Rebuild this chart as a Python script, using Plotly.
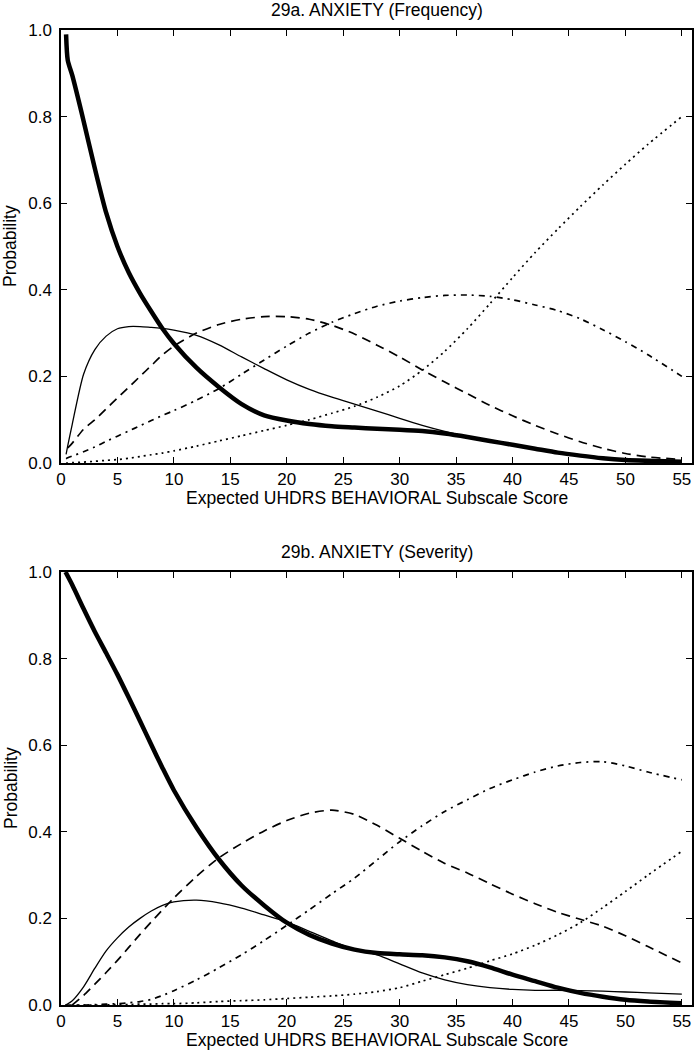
import plotly.graph_objects as go

# ---------------- data ----------------
x_freq = [0.45, 0.6, 1, 2, 3, 4, 5, 6, 7, 8, 9, 10, 12, 14, 16, 18, 20, 22, 24, 26,
          28, 30, 32, 34, 36, 38, 40, 42, 44, 46, 48, 50, 52, 55]
freq_p0 = [0.99, 0.93, 0.895, 0.79, 0.68, 0.578, 0.5, 0.44, 0.392, 0.35, 0.31, 0.276,
           0.22, 0.175, 0.136, 0.11, 0.098, 0.09, 0.085, 0.082, 0.079, 0.077, 0.074,
           0.068, 0.06, 0.051, 0.042, 0.033, 0.024, 0.017, 0.011, 0.007, 0.005, 0.003]
freq_p1 = [0.02, 0.04, 0.09, 0.205, 0.262, 0.293, 0.31, 0.315, 0.315, 0.313, 0.311,
           0.307, 0.295, 0.273, 0.245, 0.218, 0.192, 0.17, 0.152, 0.136, 0.12, 0.103,
           0.087, 0.073, 0.061, 0.052, 0.043, 0.034, 0.026, 0.019, 0.013, 0.008,
           0.005, 0.003]
freq_p2 = [None, 0.035, 0.046, 0.078, 0.10, 0.125, 0.15, 0.175, 0.20, 0.225, 0.25,
           0.27, 0.30, 0.32, 0.332, 0.338, 0.338, 0.332, 0.318, 0.298, 0.272, 0.245,
           0.215, 0.187, 0.16, 0.133, 0.109, 0.087, 0.067, 0.049, 0.034, 0.022,
           0.014, 0.008]
freq_p3 = [0.01, 0.012, 0.016, 0.026, 0.037, 0.05, 0.062, 0.074, 0.086, 0.098, 0.11,
           0.121, 0.145, 0.172, 0.205, 0.238, 0.27, 0.30, 0.325, 0.345, 0.362, 0.374,
           0.382, 0.387, 0.388, 0.385, 0.377, 0.365, 0.352, 0.333, 0.308, 0.28,
           0.25, 0.20]
freq_p4 = [0.0, 0.0, 0.001, 0.002, 0.004, 0.006, 0.008, 0.011, 0.015, 0.019, 0.023,
           0.028, 0.039, 0.051, 0.063, 0.075, 0.087, 0.10, 0.115, 0.131, 0.152, 0.178,
           0.214, 0.258, 0.31, 0.368, 0.428, 0.486, 0.54, 0.592, 0.642, 0.69, 0.736,
           0.80]

x_sev = [0.4, 1, 2, 3, 4, 5, 6, 7, 8, 9, 10, 12, 14, 16, 18, 20, 22, 24, 26, 28, 30,
         32, 34, 36, 38, 40, 42, 44, 46, 48, 50, 52, 55]
sev_p0 = [1.0, 0.97, 0.915, 0.862, 0.813, 0.763, 0.71, 0.656, 0.601, 0.547, 0.496,
          0.41, 0.336, 0.276, 0.23, 0.19, 0.162, 0.142, 0.128, 0.12, 0.117, 0.115,
          0.11, 0.101, 0.087, 0.07, 0.055, 0.04, 0.028, 0.019, 0.012, 0.008, 0.004]
sev_p1 = [0.0, 0.01, 0.042, 0.085, 0.125, 0.155, 0.18, 0.20, 0.217, 0.23, 0.238,
          0.242, 0.236, 0.224, 0.208, 0.192, 0.17, 0.148, 0.128, 0.116, 0.095, 0.074,
          0.058, 0.047, 0.04, 0.036, 0.034, 0.034, 0.033, 0.032, 0.03, 0.028, 0.025]
sev_p2 = [None, 0.0, 0.022, 0.048, 0.075, 0.103, 0.133, 0.163, 0.192, 0.22, 0.247,
          0.297, 0.34, 0.373, 0.402, 0.426, 0.443, 0.45, 0.44, 0.415, 0.385, 0.355,
          0.327, 0.305, 0.28, 0.256, 0.234, 0.214, 0.198, 0.182, 0.16, 0.135, 0.097]
sev_p3 = [0.0, 0.0, 0.0, 0.001, 0.002, 0.003, 0.005, 0.008, 0.013, 0.022, 0.033,
          0.058, 0.086, 0.116, 0.149, 0.184, 0.22, 0.257, 0.293, 0.335, 0.377, 0.414,
          0.447, 0.474, 0.50, 0.52, 0.538, 0.552, 0.56, 0.562, 0.552, 0.538, 0.52]
sev_p4 = [0.0, 0.0, 0.0, 0.0, 0.0, 0.001, 0.001, 0.002, 0.002, 0.003, 0.003, 0.005,
          0.008, 0.01, 0.012, 0.015, 0.018, 0.021, 0.025, 0.031, 0.04, 0.055, 0.07,
          0.085, 0.102, 0.118, 0.138, 0.162, 0.19, 0.225, 0.262, 0.30, 0.355]

x_ticks = [0, 5, 10, 15, 20, 25, 30, 35, 40, 45, 50, 55]
y_ticks = [0.0, 0.2, 0.4, 0.6, 0.8, 1.0]
titles = ["29a. ANXIETY (Frequency)", "29b. ANXIETY (Severity)"]
x_title = "Expected UHDRS BEHAVIORAL Subscale Score"
y_title = "Probability"

# ---------------- styles ----------------
styles = [
    dict(width=4.5, dash="solid"),
    dict(width=1.3, dash="solid"),
    dict(width=1.7, dash="9px,6px"),
    dict(width=1.7, dash="6px,5px,2px,5px"),
    dict(width=1.7, dash="2px,4px"),
]
FONT = "Liberation Sans, Arial, sans-serif"
FS_TICK = 17
FS_TITLE = 17.5

fig = go.Figure()
panels = [
    ("x", "y", x_freq, [freq_p0, freq_p1, freq_p2, freq_p3, freq_p4]),
    ("x2", "y2", x_sev, [sev_p0, sev_p1, sev_p2, sev_p3, sev_p4]),
]
for xa, ya, xs, series in panels:
    for s, st in zip(series, styles):
        fig.add_trace(go.Scatter(
            x=xs, y=s, xaxis=xa, yaxis=ya, mode="lines",
            line=dict(color="black", width=st["width"], dash=st["dash"],
                      shape="spline", smoothing=0.7),
            showlegend=False, hoverinfo="skip"))

W, H = 694, 1050
L, R = 61, 2
top_px = [(30, 463), (572, 1005)]

def ax_common():
    return dict(showline=True, linecolor="black", linewidth=1.5, mirror="allticks",
                ticks="inside", ticklen=6, tickcolor="black", tickwidth=1,
                showgrid=False, zeroline=False, automargin=False,
                tickfont=dict(family=FONT, size=FS_TICK, color="black"))

layout = dict(width=W, height=H, margin=dict(l=L, r=R, t=0, b=0),
              paper_bgcolor="white", plot_bgcolor="white",
              font=dict(family=FONT, size=FS_TICK, color="black"), annotations=[])

for i, (t, b) in enumerate(top_px):
    sfx = "" if i == 0 else "2"
    xa = ax_common()
    xa.update(domain=[0, 1], range=[0, 55.9], tickmode="array", tickvals=x_ticks,
              anchor="y" + sfx)
    ya = ax_common()
    ya.update(domain=[1 - b / H, 1 - t / H], range=[0, 1], tickmode="array",
              tickvals=y_ticks, tickformat=".1f", anchor="x" + sfx,
              ticklabelstandoff=4)
    layout["xaxis" + sfx] = xa
    layout["yaxis" + sfx] = ya
    layout["annotations"] += [
        dict(text=titles[i], xref="paper", yref="paper", x=0.5,
             y=1 - (t - 20) / H, xanchor="center", yanchor="middle",
             showarrow=False, font=dict(family=FONT, size=FS_TITLE)),
        dict(text=x_title, xref="paper", yref="paper", x=0.5,
             y=1 - (b + 34.5) / H, xanchor="center", yanchor="middle",
             showarrow=False, font=dict(family=FONT, size=FS_TITLE)),
        dict(text=y_title, xref="paper", yref="paper", x=-(L - 10.5) / (W - L - R),
             y=1 - ((t + b) / 2) / H, xanchor="center", yanchor="middle",
             textangle=-90, showarrow=False, font=dict(family=FONT, size=FS_TITLE)),
    ]

fig.update_layout(**layout)
fig.write_html("out.html",
               config={"displayModeBar": False},
               post_script="document.body.style.margin='0';"
                           "document.body.style.overflow='hidden';")
